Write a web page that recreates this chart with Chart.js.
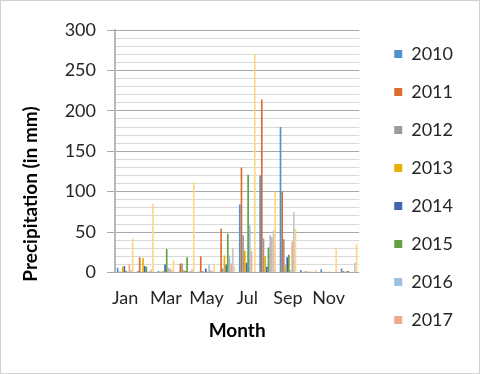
<!DOCTYPE html>
<html>
<head>
<meta charset="utf-8">
<script src="https://cdn.jsdelivr.net/npm/chart.js@4.4.1/dist/chart.umd.min.js"></script>
<style>
    html, body { margin: 0; padding: 0; background: #fff; }
    #wrap { position: relative; width: 480px; height: 374px; }
    #frame { position: absolute; left: 0; top: 0; width: 480px; height: 374px;
             box-sizing: border-box; border: 1px solid #d0d0d0; pointer-events: none; }
</style>
</head>
<body>
<div id="wrap">
    <canvas id="rainChart" width="480" height="374"></canvas>
    <div id="frame"></div>
</div>
<script>
// Monthly precipitation (mm)
const months = ['Jan', 'Feb', 'Mar', 'Apr', 'May', 'Jun', 'Jul', 'Aug', 'Sep', 'Oct', 'Nov', 'Dec'];
const years = ['2010', '2011', '2012', '2013', '2014', '2015', '2016', '2017', '2018', '2019'];

const rain2010 = [6, 2, 2, 1, 1, 1, 84, 120, 180, 3, 4, 5];
const rain2011 = [1, 19, 1, 11, 20, 54, 130, 214, 100, 1, 1, 2];
const rain2012 = [1, 1, 1, 11, 2, 5, 46, 42, 41, 1, 0, 1];
const rain2013 = [7, 18, 2, 3, 1, 21, 27, 20, 9, 2, 1, 2];
const rain2014 = [8, 8, 10, 2, 5, 10, 12, 7, 19, 1, 0, 2];
const rain2015 = [2, 7, 29, 19, 1, 48, 121, 31, 22, 1, 1, 0];
const rain2016 = [1, 1, 6, 1, 10, 21, 58, 46, 3, 1, 0, 0];
const rain2017 = [10, 2, 5, 2, 3, 11, 26, 44, 38, 1, 0, 1];
const rain2018 = [3, 4, 3, 4, 2, 30, 0, 52, 75, 1, 0, 12];
const rain2019 = [42, 85, 15, 112, 10, 8, 270, 100, 54, 3, 30, 35];

const yTicks = [0, 50, 100, 150, 200, 250, 300];

const series = [rain2010, rain2011, rain2012, rain2013, rain2014,
                rain2015, rain2016, rain2017, rain2018, rain2019];
const colors = ['#5591CB', '#DB6C2C', '#9B9B9B', '#E8AE00', '#4066B0',
                '#64A042', '#9CC0E3', '#F2AA8C', '#C6C6C6', '#FFD683'];

const textColor = '#262626';
const fontName = 'Lato, "Open Sans", sans-serif';

// the source legend is cut off after 2017; move it a bit away from the plot
const legendShift = {
    id: 'legendShift',
    afterLayout(chart) {
        chart.legend.left += 15;
        chart.legend.right += 15;
    }
};

// y title sits lower than the plot centre in the source
const yTitle = {
    id: 'yTitle',
    afterDraw(chart) {
        const c = chart.ctx;
        c.save();
        c.translate(31, 194);
        c.rotate(-Math.PI / 2);
        c.font = 'bold 19px ' + fontName;
        c.fillStyle = '#000';
        c.textAlign = 'center';
        c.textBaseline = 'middle';
        c.fillText('Precipitation (in mm)', 0, 0);
        c.restore();
    }
};

const ctx = document.getElementById('rainChart').getContext('2d');
const rainChart = new Chart(ctx, {
    type: 'bar',
    data: {
        labels: months,
        datasets: series.map((values, i) => ({
            label: years[i],
            data: values,
            backgroundColor: colors[i],
            borderWidth: 0,
            categoryPercentage: 0.82,
            barPercentage: 1
        }))
    },
    options: {
        responsive: false,
        animation: false,
        layout: {
            padding: { left: 0, top: 0, right: 32, bottom: 0 }
        },
        plugins: {
            tooltip: { enabled: false },
            legend: {
                position: 'right',
                labels: {
                    boxWidth: 8,
                    boxHeight: 8,
                    padding: 20,
                    color: textColor,
                    font: { family: fontName, size: 18 },
                    filter: (item) => item.datasetIndex < 8
                }
            }
        },
        scales: {
            x: {
                grid: { display: false, drawTicks: false },
                border: { display: false },
                ticks: {
                    autoSkip: false,
                    maxRotation: 0,
                    padding: 15,
                    color: textColor,
                    font: { family: fontName, size: 18 },
                    callback: function (value, index) {
                        return index % 2 === 0 ? this.getLabelForValue(value) : '';
                    }
                },
                title: {
                    display: true,
                    text: 'Month',
                    color: '#000',
                    font: { family: fontName, size: 19, weight: 'bold' },
                    padding: { top: 0, bottom: 32 }
                },
                afterFit: (scale) => { scale.height = 101.5; }
            },
            y: {
                min: 0,
                max: 300,
                ticks: {
                    stepSize: 10,
                    autoSkip: false,
                    padding: 11,
                    color: textColor,
                    font: { family: fontName, size: 18 },
                    callback: (value) => yTicks.includes(value) ? value : ''
                },
                grid: {
                    color: (c) => yTicks.includes(c.tick.value) ? '#A8A8A8' : '#D9D9D9',
                    tickColor: (c) => yTicks.includes(c.tick.value) ? '#A8A8A8' : 'rgba(0,0,0,0)',
                    tickLength: 8
                },
                border: { color: '#B8B8B8', width: 2 },
                afterFit: (scale) => {
                    scale.width = 115;
                    scale.paddingTop = 30;
                }
            }
        }
    },
    plugins: [legendShift, yTitle]
});
</script>
</body>
</html>
